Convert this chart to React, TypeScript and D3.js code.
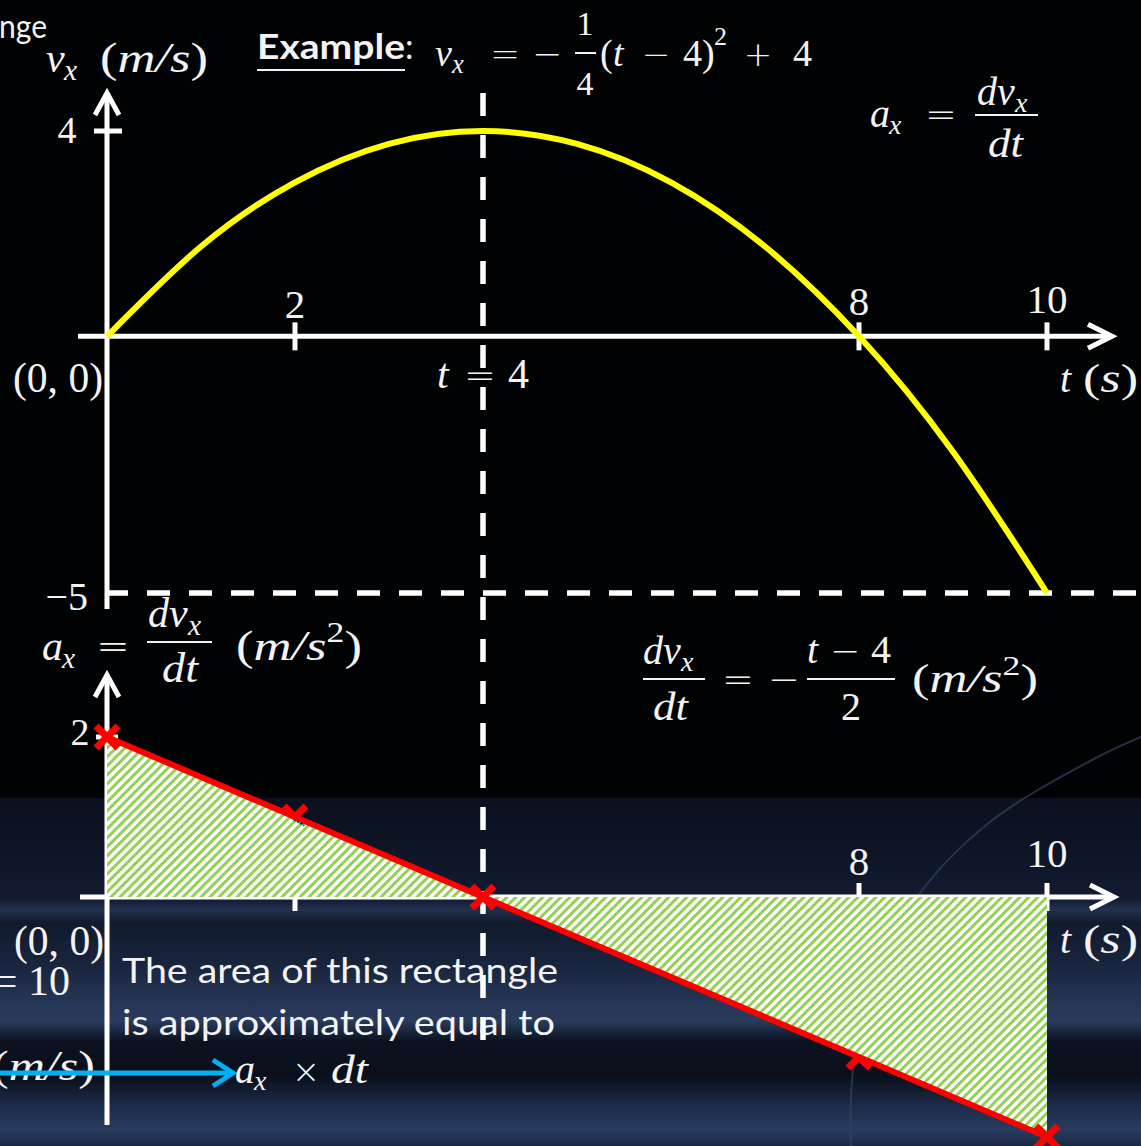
import React from 'react';
import * as d3 from 'd3';

const W = 1141;
const H = 1146;

// Time axis (s)
const timeDomain = [0, 10];
const timeTicks = [2, 8, 10];

// Velocity v_x(t) read at whole seconds (m/s)
const velocityTimes = [0, 1, 2, 3, 4, 5, 6, 7, 8, 9, 10];
const velocityValues = [0, 1.75, 3, 3.75, 4, 3.75, 3, 1.75, 0, -2.25, -5];
const velocityDomain = [-5, 4];

// Acceleration a_x(t) at the marked instants (m/s^2)
const accelTimes = [0, 2, 4, 8, 10];
const accelValues = [2, 1, 0, -2, -3];
const accelDomain = [-3, 2];
const hiddenMarkerTimes = [2, 8];

// Time of the velocity peak / sign change of a_x
const peakTime = 4;
// Thin strip of width dt under the acceleration line
const stripTimes = [1.93, 2.1];
const stripDepth = 0.07;

const MATH = "'Liberation Serif', 'DejaVu Serif', serif";
const OPS = "'DejaVu Sans', sans-serif";
const SANS = "Lato, 'Open Sans', 'Liberation Sans', sans-serif";
const INK = '#f3f3f3';

const x = d3.scaleLinear().domain(timeDomain).range([107, 1047]);
const yV = d3.scaleLinear().domain(velocityDomain).range([593, 131]);
const yA = d3.scaleLinear().domain(accelDomain).range([1137, 737]);

type TP = {
  x: number; y: number; s: string; size: number; it?: boolean; w?: number;
  anchor?: 'start' | 'middle' | 'end'; family?: string; weight?: string | number;
};
function T({ x, y, s, size, it = false, w, anchor = 'start', family = MATH, weight }: TP) {
  return (
    <text
      x={x} y={y} fontSize={size} fontStyle={it ? 'italic' : 'normal'} fontFamily={family}
      fill={INK} textAnchor={anchor} fontWeight={weight}
      textLength={w} lengthAdjust={w ? 'spacingAndGlyphs' : undefined}
    >{s}</text>
  );
}

// binary operator / relation, centred on cx
function Op({ cx, y, s, size }: { cx: number; y: number; s: string; size: number }) {
  return (
    <text x={cx} y={y} fontSize={size} fontFamily={OPS} fontWeight={300} fill={INK} textAnchor="middle">{s}</text>
  );
}

function Bar({ x1, x2, y }: { x1: number; x2: number; y: number }) {
  return <line x1={x1} x2={x2} y1={y} y2={y} stroke={INK} strokeWidth={2} />;
}

// "(m/s)", "(m/s²)" or "(s)"
function Units({ x, y, size, unit = 'm/s', sq = false, w }: { x: number; y: number; size: number; unit?: string; sq?: boolean; w?: number }) {
  return (
    <text x={x} y={y} fontSize={size} fontFamily={MATH} fill={INK}
      textLength={w} lengthAdjust={w ? 'spacingAndGlyphs' : undefined}>
      <tspan>(</tspan>
      <tspan fontStyle="italic">{unit}</tspan>
      {sq ? <tspan dy={-size * 0.42} fontSize={size * 0.68}>2</tspan> : null}
      <tspan dy={sq ? size * 0.42 : 0}>)</tspan>
    </text>
  );
}

// subscripted variable like v_x, a_x
function Sub({ x, y, base, sub, size, gap }: { x: number; y: number; base: string; sub: string; size: number; gap: number }) {
  return (
    <g>
      <T x={x} y={y} s={base} size={size} it />
      <T x={x + gap} y={y + size * 0.18} s={sub} size={size * 0.7} it />
    </g>
  );
}

function Marker({ cx, cy }: { cx: number; cy: number }) {
  const r = 11;
  return (
    <g stroke="#ff0000" strokeWidth={7}>
      <line x1={cx - r} y1={cy - r} x2={cx + r} y2={cy + r} />
      <line x1={cx - r} y1={cy + r} x2={cx + r} y2={cy - r} />
    </g>
  );
}

function chevron(tx: number, ty: number, dir: 'up' | 'right', back = 22, half = 12) {
  return dir === 'up'
    ? `M${tx - half},${ty + back}L${tx},${ty}L${tx + half},${ty + back}`
    : `M${tx - back},${ty - half}L${tx},${ty}L${tx - back},${ty + half}`;
}

export default function App() {
  const v0 = yV(0);
  const a0 = yA(0);
  const xPeak = x(peakTime);

  const velocityPts = velocityTimes.map((t, i) => [t, velocityValues[i]] as [number, number]);
  const accelPts = accelTimes.map((t, i) => [t, accelValues[i]] as [number, number]);

  const vLine = d3.line<[number, number]>().x(d => x(d[0])).y(d => yV(d[1])).curve(d3.curveNatural);
  const aLine = d3.line<[number, number]>().x(d => x(d[0])).y(d => yA(d[1]));
  const aArea = d3.area<[number, number]>().x(d => x(d[0])).y0(a0).y1(d => yA(d[1]));

  const posPart = accelPts.filter(d => d[0] <= peakTime);
  const negPart = accelPts.filter(d => d[0] >= peakTime);

  // linear interpolation along the acceleration line for the dt strip
  const aAt = d3.scaleLinear().domain(accelTimes).range(accelValues);
  const s0 = stripTimes[0], s1 = stripTimes[1];
  const stripPath = `M${x(s0)},${yA(aAt(s0))}L${x(s1)},${yA(aAt(s1))}L${x(s1)},${yA(aAt(s1) - stripDepth)}L${x(s0) + 4},${yA(aAt(s0) - stripDepth)}Z`;

  const arcPts: [number, number][] = [[851, 1146], [853, 1070], [874, 978], [917, 897], [990, 822], [1092, 760], [1141, 737]];
  const arcPath = d3.line().curve(d3.curveCatmullRom)(arcPts) || '';

  return (
    <svg width={W} height={H} viewBox={`0 0 ${W} ${H}`}
      style={{ position: 'absolute', left: 0, top: 0, display: 'block' }}>
      <defs>
        <linearGradient id="bgLow" x1="0" y1="0" x2="0" y2="1">
          <stop offset="0" stopColor="#0a101d" />
          <stop offset="0.18" stopColor="#0e1628" />
          <stop offset="0.29" stopColor="#121b30" />
          <stop offset="0.32" stopColor="#22304e" />
          <stop offset="0.36" stopColor="#111a2d" />
          <stop offset="0.47" stopColor="#18233c" />
          <stop offset="0.57" stopColor="#233352" />
          <stop offset="0.64" stopColor="#293b5e" />
          <stop offset="0.70" stopColor="#0b111f" />
          <stop offset="0.80" stopColor="#0a0f1b" />
          <stop offset="0.88" stopColor="#1b2a47" />
          <stop offset="0.95" stopColor="#283b60" />
          <stop offset="1" stopColor="#1c2944" />
        </linearGradient>
        <pattern id="hatch" width="9" height="9" patternUnits="userSpaceOnUse">
          <rect width="9" height="9" fill="#ffffff" />
          <path d="M-2,2L2,-2M0,9L9,0M7,11L11,7" stroke="#92d050" strokeWidth={3} />
        </pattern>
        <pattern id="hatchBlue" width="5" height="5" patternUnits="userSpaceOnUse">
          <rect width="5" height="5" fill="#00b0f0" />
          <path d="M-1,1L1,-1M0,5L5,0M4,6L6,4" stroke="#000" strokeWidth={1.4} />
        </pattern>
      </defs>

      {/* backdrop */}
      <rect x={0} y={0} width={W} height={H} fill="#010203" />
      <rect x={0} y={798} width={W} height={H - 798} fill="url(#bgLow)" />
      <path d={arcPath} fill="none" stroke="#34425f" strokeWidth={2} opacity={0.7} />

      {/* ---------- upper panel: v_x(t) ---------- */}
      <g stroke="#ffffff" strokeWidth={5} fill="none">
        <line x1={107} x2={107} y1={95} y2={609} />
        <path d={chevron(107, 93, 'up')} strokeLinejoin="miter" />
        <line x1={78} x2={1110} y1={v0} y2={v0} />
        <path d={chevron(1112, v0, 'right', 24, 12)} />
        <line x1={94} x2={122} y1={yV(4)} y2={yV(4)} />
        {timeTicks.map(t => (
          <line key={t} x1={x(t)} x2={x(t)} y1={v0 - 14} y2={v0 + 14} />
        ))}
      </g>
      {/* dashed guides */}
      <line x1={xPeak} x2={xPeak} y1={93} y2={1040} stroke="#fff" strokeWidth={5.5} strokeDasharray="23 19" />
      <line x1={105} x2={W} y1={yV(-5)} y2={yV(-5)} stroke="#fff" strokeWidth={5.5} strokeDasharray="23 19" />

      <path d={vLine(velocityPts) || ''} fill="none" stroke="#ffff00" strokeWidth={6} strokeLinejoin="round" />

      {/* upper labels */}
      <T x={-1} y={38} s="nge" size={33} family={SANS} w={48} />
      <Sub x={46} y={72} base="v" sub="x" size={42} gap={18} />
      <Units x={100} y={72} size={42} w={108} />
      <T x={67} y={143} s="4" size={38} anchor="middle" />
      <T x={x(2)} y={318} s="2" size={41} anchor="middle" />
      <T x={x(8)} y={315} s="8" size={41} anchor="middle" />
      <T x={x(10)} y={313} s="10" size={41} anchor="middle" />
      <T x={103} y={392} s="(0, 0)" size={42} anchor="end" w={90} />
      <T x={437} y={388} s="t" size={42} it />
      <Op cx={480} y={388} s="=" size={38} />
      <T x={508} y={388} s="4" size={42} />
      <T x={1060} y={392} s="t" size={40} it />
      <Units x={1083} y={392} size={40} unit="s" w={55} />
      <T x={88} y={610} s="−5" size={40} anchor="end" />

      {/* heading */}
      <T x={257} y={59} s="Example" size={34} family={SANS} weight={700} w={148} />
      <T x={405} y={59} s=":" size={34} family={SANS} />
      <line x1={257} x2={405} y1={70} y2={70} stroke={INK} strokeWidth={2} />
      <Sub x={435} y={66} base="v" sub="x" size={38} gap={17} />
      <Op cx={505} y={66} s="=" size={36} />
      <Op cx={547} y={66} s="−" size={36} />
      <T x={585} y={35} s="1" size={34} anchor="middle" />
      <Bar x1={575} x2={596} y={53} />
      <T x={585} y={95} s="4" size={34} anchor="middle" />
      <T x={600} y={66} s="(" size={38} />
      <T x={613} y={66} s="t" size={38} it />
      <Op cx={656} y={66} s="−" size={34} />
      <T x={683} y={66} s="4" size={38} />
      <T x={702} y={66} s=")" size={38} />
      <T x={714} y={45} s="2" size={26} />
      <Op cx={758} y={66} s="+" size={34} />
      <T x={793} y={66} s="4" size={38} />

      {/* a = dv/dt, upper right */}
      <Sub x={870} y={127} base="a" sub="x" size={40} gap={19} />
      <Op cx={941} y={127} s="=" size={38} />
      <Sub x={977} y={105} base="dv" sub="x" size={40} gap={38} />
      <Bar x1={975} x2={1038} y={115} />
      <T x={988} y={157} s="dt" size={40} it w={35} />

      {/* ---------- lower panel: a_x(t) ---------- */}
      <g stroke="#ffffff" strokeWidth={5} fill="none">
        <line x1={107} x2={107} y1={677} y2={1125} />
        <path d={chevron(107, 675, 'up')} />
        <line x1={80} x2={1112} y1={a0} y2={a0} />
        <path d={chevron(1114, a0, 'right', 24, 12)} />
        <line x1={96} x2={118} y1={yA(2)} y2={yA(2)} />
        {timeTicks.map(t => (
          <line key={t} x1={x(t)} x2={x(t)} y1={a0 - 14} y2={a0 + 14} />
        ))}
      </g>

      {accelPts.filter(d => hiddenMarkerTimes.includes(d[0])).map(d => (
        <Marker key={d[0]} cx={x(d[0])} cy={yA(d[1])} />
      ))}
      <path d={aArea(posPart) || ''} fill="url(#hatch)" />
      <path d={aArea(negPart) || ''} fill="url(#hatch)" />
      <path d={stripPath} fill="url(#hatchBlue)" />
      <path d={aLine(accelPts) || ''} fill="none" stroke="#ff0000" strokeWidth={6} />
      {accelPts.filter(d => !hiddenMarkerTimes.includes(d[0])).map(d => (
        <Marker key={d[0]} cx={x(d[0])} cy={yA(d[1])} />
      ))}

      {/* lower labels */}
      <Sub x={42} y={660} base="a" sub="x" size={42} gap={20} />
      <Op cx={113} y={660} s="=" size={40} />
      <Sub x={148} y={627} base="dv" sub="x" size={42} gap={40} />
      <Bar x1={147} x2={212} y={642} />
      <T x={162} y={682} s="dt" size={42} it w={36} />
      <Units x={236} y={660} size={42} sq w={126} />

      <Sub x={643} y={664} base="dv" sub="x" size={40} gap={38} />
      <Bar x1={643} x2={705} y={679} />
      <T x={653} y={720} s="dt" size={40} it w={35} />
      <Op cx={738} y={692} s="=" size={38} />
      <Op cx={784} y={692} s="−" size={38} />
      <T x={807} y={663} s="t" size={40} it />
      <Op cx={845} y={663} s="−" size={36} />
      <T x={871} y={663} s="4" size={40} />
      <Bar x1={807} x2={895} y={679} />
      <T x={851} y={720} s="2" size={40} anchor="middle" />
      <Units x={912} y={692} size={40} sq w={126} />

      <T x={80} y={745} s="2" size={38} anchor="middle" />
      <T x={x(8)} y={875} s="8" size={41} anchor="middle" />
      <T x={x(10)} y={867} s="10" size={41} anchor="middle" />
      <T x={104} y={955} s="(0, 0)" size={42} anchor="end" w={90} />
      <T x={1060} y={953} s="t" size={40} it />
      <Units x={1083} y={953} size={40} unit="s" w={55} />
      <T x={70} y={995} s="= 10" size={42} anchor="end" />
      <Units x={-8} y={1080} size={42} w={103} />

      <T x={122} y={983} s="The area of this rectangle" size={34} family={SANS} w={436} />
      <T x={122} y={1035} s="is approximately equal to" size={34} family={SANS} w={433} />

      <line x1={0} x2={228} y1={1073} y2={1073} stroke="#00b0f0" strokeWidth={5} />
      <path d={chevron(233, 1073, 'right', 20, 13)} stroke="#00b0f0" strokeWidth={5} fill="none" />
      <Sub x={235} y={1083} base="a" sub="x" size={40} gap={19} />
      <Op cx={306} y={1083} s="×" size={34} />
      <T x={331} y={1083} s="dt" size={40} it w={37} />
    </svg>
  );
}
